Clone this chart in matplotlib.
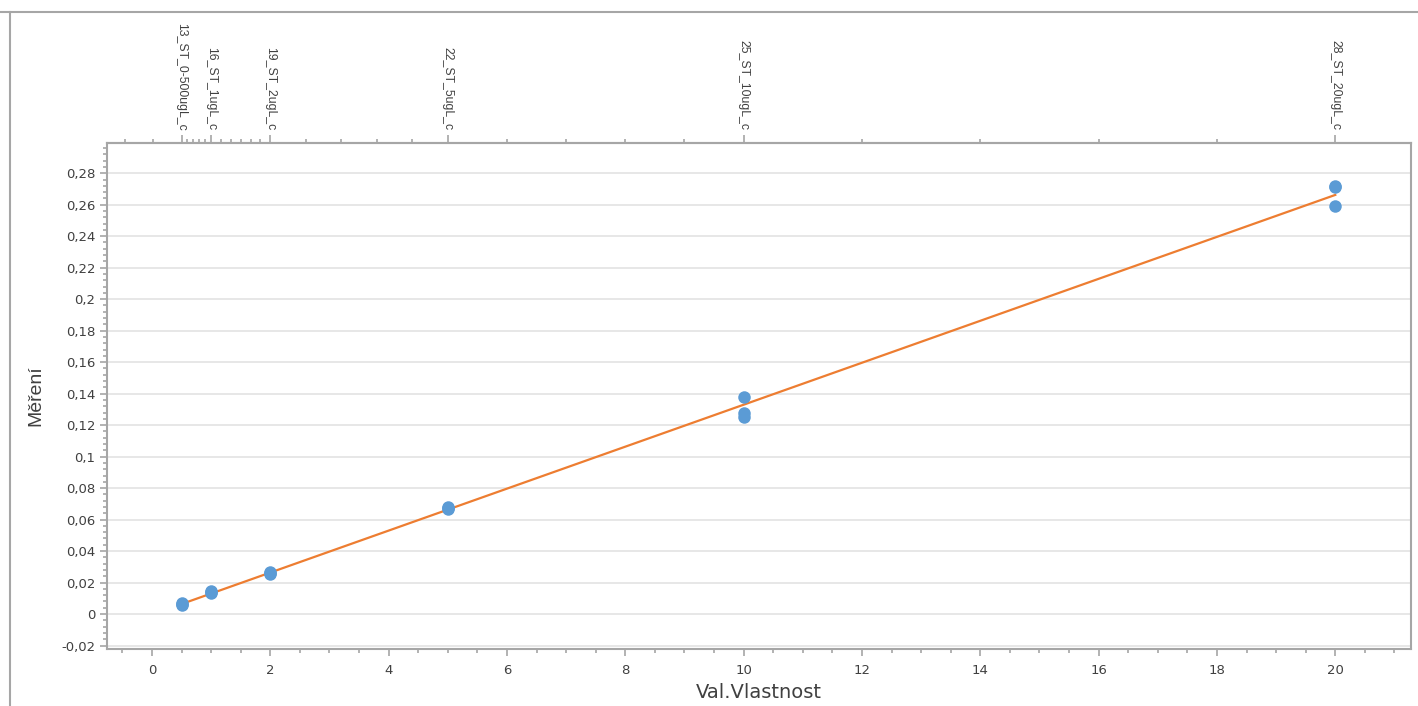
import numpy as np
import matplotlib.pyplot as plt
from matplotlib.lines import Line2D
from matplotlib.ticker import MultipleLocator, FixedLocator, FuncFormatter

# standards: concentration and measured response (3 replicates each)
conc = [0.5, 0.5, 0.5, 1, 1, 1, 2, 2, 2, 5, 5, 5, 10, 10, 10, 20, 20, 20]
resp = [0.0057, 0.0070, 0.0065,
        0.0146, 0.0133, 0.0140,
        0.0267, 0.0254, 0.0260,
        0.0680, 0.0667, 0.0672,
        0.1380, 0.1277, 0.1250,
        0.2720, 0.2710, 0.2590]

std_pos = [0.5, 1, 2, 5, 10, 20]
std_names = ['13_ST_0-500ugL_c', '16_ST_1ugL_c', '19_ST_2ugL_c',
             '22_ST_5ugL_c', '25_ST_10ugL_c', '28_ST_20ugL_c']

grey = '#a6a6a6'
txt = '#404040'

fig = plt.figure(figsize=(14.18, 7.06), dpi=100)
ax = fig.add_axes([107/1418, 1-649/706, (1411-107)/1418, (649-143)/706])

# calibration fit
k, q = np.polyfit(conc, resp, 1)
xf = np.array([min(conc), max(conc)])
ax.plot(xf, k*xf + q, color='#ed7d31', lw=1.6, zorder=3)
ax.plot(conc, resp, 'o', color='#5b9bd5', ms=9, mec='#5b9bd5', mew=0, zorder=4)

ax.set_xlim(-0.76, 21.28)
ax.set_ylim(-0.0222, 0.2992)

ax.xaxis.set_major_locator(MultipleLocator(2))
ax.xaxis.set_minor_locator(MultipleLocator(0.5))
ax.yaxis.set_major_locator(MultipleLocator(0.02))
ax.yaxis.set_minor_locator(MultipleLocator(0.004))

def comma(v, pos):
    s = ('%.2f' % v).rstrip('0').rstrip('.')
    if s in ('-0', ''):
        s = '0'
    return s.replace('.', ',')

ax.yaxis.set_major_formatter(FuncFormatter(comma))
ax.xaxis.set_major_formatter(FuncFormatter(lambda v, p: '%d' % v))

ax.grid(axis='y', which='major', color='#e3e3e3', lw=1.2, zorder=0)
for s in ax.spines.values():
    s.set_color(grey)
    s.set_linewidth(1.5)

ax.tick_params(which='both', colors=grey, labelcolor=txt, labelsize=9.5)
ax.tick_params(which='major', length=5, width=1.2)
ax.tick_params(which='minor', length=3, width=1.2)
ax.tick_params(axis='x', pad=6)

ax.set_xlabel('Val.Vlastnost', fontsize=14, color=txt, labelpad=4)
ax.set_ylabel('Měření', fontsize=14, color=txt, labelpad=12,
              family=['Liberation Sans', 'DejaVu Sans'])

# top axis with standard names
top = ax.secondary_xaxis('top')
top.set_xticks(std_pos)
top.set_xticklabels(std_names, rotation=270, fontsize=8.8, color=txt,
                    family=['Liberation Sans Narrow', 'Liberation Sans', 'DejaVu Sans'])
top.xaxis.set_minor_locator(FixedLocator(
    [-0.46, 0.02, 0.6, 0.7, 0.8, 0.9, 1.17, 1.33, 1.5, 1.67, 1.83,
     2.6, 3.2, 3.8, 4.4, 6, 7, 8, 9, 12, 14, 16, 18]))
top.tick_params(which='both', colors=grey, labelcolor=txt)
top.tick_params(which='major', length=6, width=1.2, pad=3)
top.tick_params(which='minor', length=3, width=1.2)
top.spines['top'].set_color(grey)
top.spines['top'].set_linewidth(1.5)

# outer frame
fig.add_artist(Line2D([0, 1], [1-12/706, 1-12/706], color=grey, lw=1.5))
fig.add_artist(Line2D([10/1418, 10/1418], [0, 1-12/706], color=grey, lw=1.5))

fig.savefig('out.png', dpi=100)
